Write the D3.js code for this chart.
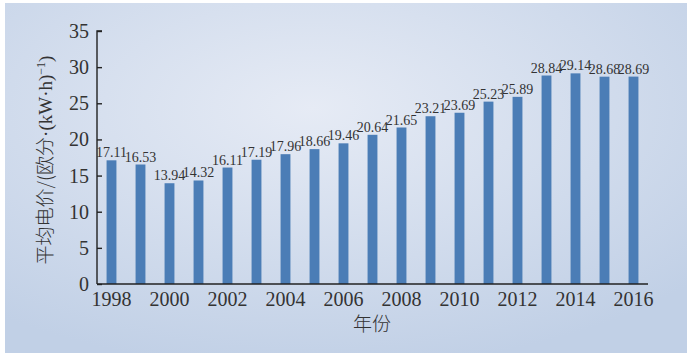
<!DOCTYPE html>
<meta charset="utf-8">
<script src="https://d3js.org/d3.v7.min.js"></script>
<style>
  body { margin: 0; background: #fff; }
  text { font-family: "Liberation Serif", "DejaVu Serif", serif; fill: #333; }
  .cjk { font-family: "Noto Sans CJK SC", sans-serif; font-weight: 300; }
</style>
<svg id="chart" width="696" height="353"></svg>
<script>
  // data
  var years = ["1998","1999","2000","2001","2002","2003","2004","2005","2006","2007",
               "2008","2009","2010","2011","2012","2013","2014","2015","2016"];
  var prices = [17.11, 16.53, 13.94, 14.32, 16.11, 17.19, 17.96, 18.66, 19.46, 20.64,
                21.65, 23.21, 23.69, 25.23, 25.89, 28.84, 29.14, 28.68, 28.69];
  var yTicks = [0, 5, 10, 15, 20, 25, 30, 35];
  var xLabels = ["1998","2000","2002","2004","2006","2008","2010","2012","2014","2016"];

  var svg = d3.select("#chart");

  // background panel
  var defs = svg.append("defs");
  var grad = defs.append("radialGradient")
    .attr("id", "bg")
    .attr("cx", "0.45").attr("cy", "0.3").attr("r", "0.75");
  grad.append("stop").attr("offset", "0%").attr("stop-color", "#e6ebf5");
  grad.append("stop").attr("offset", "100%").attr("stop-color", "#c1d0e6");

  svg.append("rect")
    .attr("x", 5).attr("y", 3)
    .attr("width", 682).attr("height", 350)
    .attr("fill", "url(#bg)");

  var x0 = 97, x1 = 648, yTop = 31, yBot = 284;

  var x = d3.scaleBand()
    .domain(years)
    .range([x0, x1])
    .paddingInner(0.66)
    .paddingOuter(0.33);

  var y = d3.scaleLinear()
    .domain([0, 35])
    .range([yBot, yTop]);

  // bars
  svg.append("g")
    .selectAll("rect")
    .data(prices)
    .enter()
    .append("rect")
    .attr("x", function (d, i) { return x(years[i]); })
    .attr("y", function (d) { return y(d); })
    .attr("width", x.bandwidth())
    .attr("height", function (d) { return yBot - y(d); })
    .attr("fill", "#4b7db6");

  // value labels
  svg.append("g")
    .selectAll("text")
    .data(prices)
    .enter()
    .append("text")
    .attr("x", function (d, i) { return x(years[i]) + x.bandwidth() / 2; })
    .attr("y", function (d) { return y(d) - 3; })
    .attr("text-anchor", "middle")
    .style("font-size", "14px")
    .text(function (d) { return d.toFixed(2); });

  // y axis
  var yAxis = d3.axisRight(y).tickValues(yTicks).tickSize(5).tickFormat("");
  var gy = svg.append("g").attr("transform", "translate(" + x0 + ",0)").call(yAxis);
  gy.select(".domain").attr("stroke", "#222").attr("stroke-width", 1.4)
    .attr("d", "M5," + yTop + "H0V" + yBot);
  gy.selectAll(".tick line").attr("stroke", "#222").attr("stroke-width", 1.4);

  svg.append("g")
    .selectAll("text")
    .data(yTicks)
    .enter()
    .append("text")
    .attr("x", 89)
    .attr("y", function (d) { return y(d) + 7; })
    .attr("text-anchor", "end")
    .style("font-size", "20px")
    .text(function (d) { return d; });

  // x axis
  svg.append("line")
    .attr("x1", x0).attr("x2", x1)
    .attr("y1", yBot).attr("y2", yBot)
    .attr("stroke", "#222").attr("stroke-width", 1.4);

  svg.append("g")
    .selectAll("text")
    .data(xLabels)
    .enter()
    .append("text")
    .attr("x", function (d) { return x(d) + x.bandwidth() / 2; })
    .attr("y", 306)
    .attr("text-anchor", "middle")
    .style("font-size", "20px")
    .text(function (d) { return d; });

  // axis titles
  svg.append("text")
    .attr("class", "cjk")
    .attr("x", 372).attr("y", 331)
    .attr("text-anchor", "middle")
    .style("font-size", "19px")
    .text("年份");

  var yt = svg.append("text")
    .attr("transform", "translate(52,160) rotate(-90)")
    .attr("text-anchor", "middle")
    .style("font-size", "19px");
  yt.append("tspan").attr("class", "cjk").text("平均电价/(欧分");
  yt.append("tspan").text("·(kW·h)");
  yt.append("tspan").attr("dy", -7).style("font-size", "12px").text("−1");
  yt.append("tspan").attr("dy", 7).text(")");
</script>
